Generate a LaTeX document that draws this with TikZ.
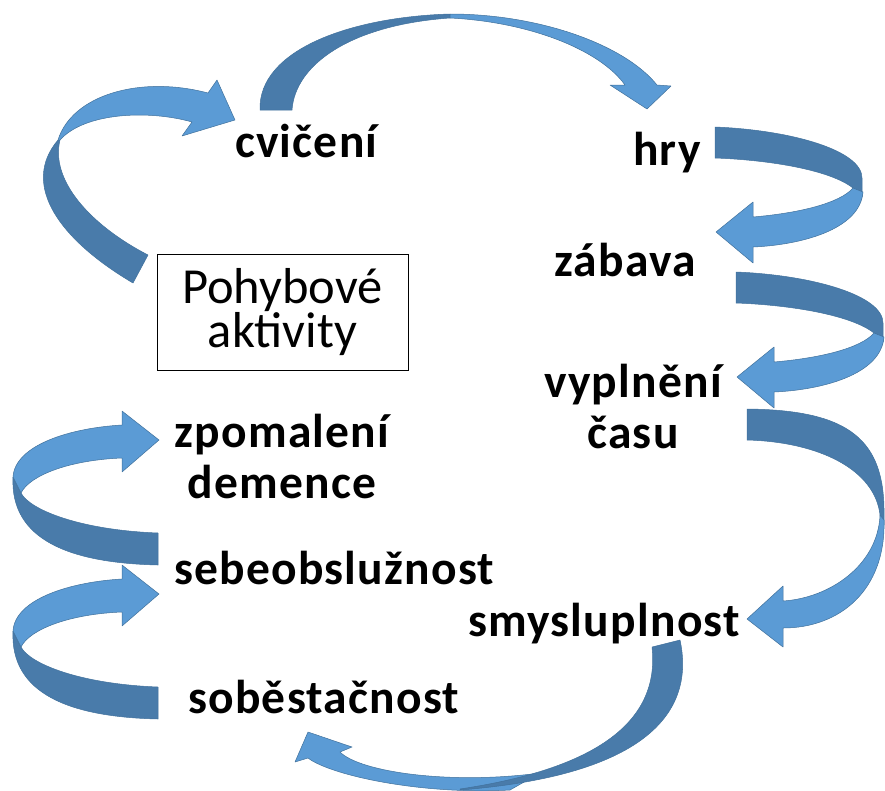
\documentclass[tikz,border=0pt]{standalone}
\usepackage{fontspec}
\setmainfont{Carlito}
\newfontfamily\lblfont[LetterSpace=2.6]{Carlito}
\definecolor{arrdark}{RGB}{73,123,170}
\definecolor{arrlight}{RGB}{91,155,213}
\definecolor{arredge}{RGB}{65,113,156}
\begin{document}
\begin{tikzpicture}[x=1pt,y=-1pt,
  back/.style={fill=arrdark,draw=arredge,line width=0.5pt,line join=round},
  front/.style={fill=arrlight,draw=arredge,line width=0.5pt,line join=round},
  lbl/.style={inner sep=0pt,font=\lblfont\bfseries\fontsize{47.5}{51}\selectfont},
  boxstyle/.style={draw=black,line width=1pt,minimum width=251pt,minimum height=116pt,
    inner sep=0pt,align=center,font=\fontsize{50.5}{40.5}\selectfont}]
\useasboundingbox (0,0) rectangle (885,790);

% Arrow A: box -> cvičení
\draw[back] (148,255) -- (133,283) .. controls (60,240) and (20,185) .. (58,140)
  -- (60,140) .. controls (50,180) and (90,225) .. (148,255) -- cycle;
\draw[front] (58,140) .. controls (72,95) and (140,75) .. (208,93) -- (217,80) -- (235,120)
  -- (182,136) -- (192,122) .. controls (150,110) and (85,112) .. (60,140) -- cycle;

% Arrow B: cvičení -> hry
\draw[back] (260,110) .. controls (258,50) and (350,17) .. (450,14)
  -- (450,18) .. controls (350,25) and (295,65) .. (292,110) -- cycle;
\draw[front] (450,14) .. controls (540,14) and (625,45) .. (657,85) -- (671,86) -- (647,109)
  -- (610,85) -- (625,85) .. controls (600,50) and (530,22) .. (450,18) -- cycle;

% Arrow C: hry -> zábava
\draw[back] (715,127) .. controls (790,130) and (862,150) .. (862,178) -- (862,197)
  -- (853,188) .. controls (830,170) and (770,160) .. (715,158) -- cycle;
\draw[front] (863,192) .. controls (860,230) and (800,245) .. (753,247) -- (753,263) -- (716,232)
  -- (753,202) -- (753,217) .. controls (800,213) and (840,203) .. (853,188) -- cycle;

% Arrow D: zábava -> vyplnění času
\draw[back] (736,272) .. controls (811,275) and (883,295) .. (883,323) -- (883,342)
  -- (874,333) .. controls (851,315) and (791,305) .. (736,303) -- cycle;
\draw[front] (884,337) .. controls (881,375) and (821,390) .. (774,392) -- (774,408) -- (737,377)
  -- (774,347) -- (774,362) .. controls (821,358) and (861,348) .. (874,333) -- cycle;

% Arrow E: času -> smysluplnost
\draw[back] (747,409) .. controls (850,410) and (885,440) .. (884,515) -- (884,525)
  -- (880,515) .. controls (875,470) and (820,442) .. (747,440) -- cycle;
\draw[front] (884,520) .. controls (886,590) and (840,628) .. (783,628) -- (783,647) -- (747,619)
  -- (783,586) -- (783,601) .. controls (830,598) and (878,565) .. (880,515) -- cycle;

% Arrow F: smysluplnost -> soběstačnost
\draw[front] (540,773) .. controls (450,785) and (360,772) .. (340,752) -- (352,747) -- (308,732)
  -- (295,762) -- (308,758) .. controls (330,775) and (420,795) .. (510,790) -- cycle;
\draw[back] (652,647) -- (680,640) .. controls (695,710) and (650,775) .. (460,790)
  -- (460,789) .. controls (600,768) and (660,720) .. (652,647) -- cycle;

% Arrow G: sebeobslužnost -> zpomalení demence
\draw[back] (158,533) .. controls (80,530) and (30,510) .. (21,493) -- (13,477)
  .. controls (10,540) and (70,563) .. (158,565) -- cycle;
\draw[front] (13,477) .. controls (15,445) and (70,428) .. (122,425) -- (122,411) -- (159,440)
  -- (122,472) -- (122,458) .. controls (70,460) and (30,475) .. (21,493) -- cycle;

% Arrow H: soběstačnost -> sebeobslužnost
\begin{scope}[shift={(0,154)}]
\draw[back] (158,533) .. controls (80,530) and (30,510) .. (21,493) -- (13,477)
  .. controls (10,540) and (70,563) .. (158,565) -- cycle;
\draw[front] (13,477) .. controls (15,445) and (70,428) .. (122,425) -- (122,411) -- (159,440)
  -- (122,472) -- (122,458) .. controls (70,460) and (30,475) .. (21,493) -- cycle;
\end{scope}

% Labels
\node[lbl,anchor=base west] (cviceni) at (235,157) {cvičení};
\node[lbl,anchor=base west] (hry) at (633,165) {hry};
\node[lbl,anchor=base west] (zabava) at (554,276) {zábava};
\node[lbl,anchor=base,align=center] (vyplneni) at (633,448) {vyplnění\\času};
\node[lbl,anchor=base,align=center] (zpomaleni) at (282,498) {zpomalení\\demence};
\node[lbl,anchor=base west] (sebe) at (174,584) {sebeobslužnost};
\node[lbl,anchor=base west] (smysl) at (468,636) {smysluplnost};
\node[lbl,anchor=base west] (sobe) at (188,713) {soběstačnost};
\node[boxstyle] (box) at (282.5,312) {Pohybové\\aktivity};
\end{tikzpicture}
\end{document}
